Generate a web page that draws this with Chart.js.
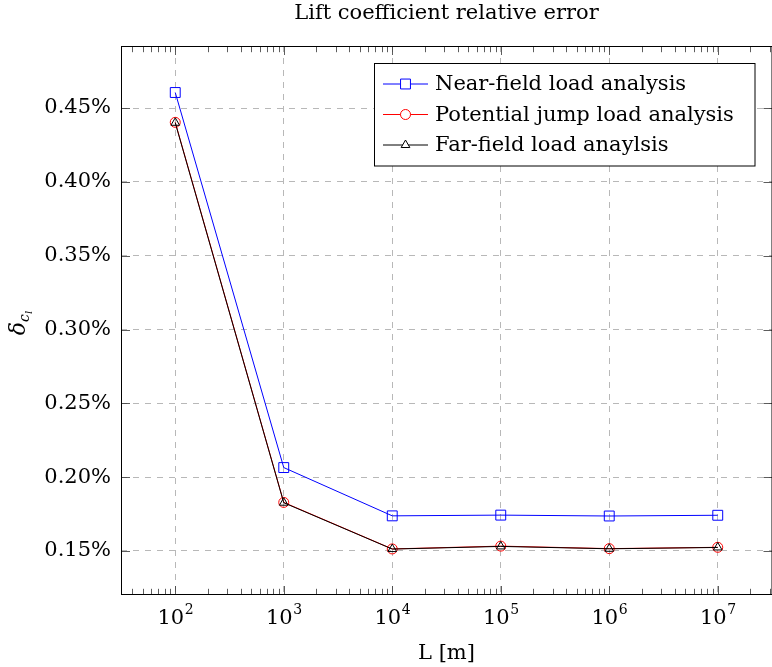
<!DOCTYPE html>
<html>
<head>
<meta charset="utf-8">
<script src="https://cdn.jsdelivr.net/npm/chart.js@4/dist/chart.umd.min.js"></script>
<style>
  html, body { margin: 0; padding: 0; overflow: hidden; background: #fff; }
  canvas { display: block; }
</style>
</head>
<body>
<canvas id="myChart" width="780" height="667"></canvas>
<script>
// data (values in %)
const lengths = [1e2, 1e3, 1e4, 1e5, 1e6, 1e7];
const nearField = [0.4605, 0.2065, 0.1738, 0.1743, 0.1737, 0.1742];
const potentialJump = [0.4403, 0.1829, 0.1514, 0.1533, 0.1516, 0.1525];
const farField = [0.4400, 0.1827, 0.1513, 0.1531, 0.1515, 0.1524];
const seriesNames = ["Near-field load analysis", "Potential jump load analysis", "Far-field load anaylsis"];
const xTicks = [1e2, 1e3, 1e4, 1e5, 1e6, 1e7];
const yTicks = [0.15, 0.2, 0.25, 0.3, 0.35, 0.4, 0.45];

const FONT = '"DejaVu Serif", "Liberation Serif", serif';
const FS = 21;

const toPoints = (ys) => lengths.map((x, i) => ({ x, y: ys[i] }));

const decorations = {
  id: "decorations",
  afterDatasetsDraw(chart) {
    const { ctx, chartArea: a, scales: { x, y } } = chart;
    const left = Math.round(a.left) + 0.5;
    const top = Math.round(a.top) + 0.5;
    const bottom = Math.round(a.bottom) - 0.5;
    const right = a.right;
    ctx.save();

    // minor + major ticks, pointing inwards
    ctx.strokeStyle = "#333";
    ctx.lineWidth = 0.8;
    ctx.beginPath();
    for (let e = 1; e <= 7; e++) {
      for (let k = 2; k <= 9; k++) {
        const v = k * 10 ** e;
        if (v < x.min || v > x.max) continue;
        const px = Math.round(x.getPixelForValue(v)) + 0.5;
        ctx.moveTo(px, bottom); ctx.lineTo(px, bottom - 5.7);
        ctx.moveTo(px, top); ctx.lineTo(px, top + 5.7);
      }
    }
    xTicks.forEach((v) => {
      const px = Math.round(x.getPixelForValue(v)) + 0.5;
      ctx.moveTo(px, bottom); ctx.lineTo(px, bottom - 8.5);
      ctx.moveTo(px, top); ctx.lineTo(px, top + 8.5);
    });
    yTicks.forEach((v) => {
      const py = Math.round(y.getPixelForValue(v)) + 0.5;
      ctx.moveTo(left, py); ctx.lineTo(left + 8.5, py);
      ctx.moveTo(right, py); ctx.lineTo(right - 8.5, py);
    });
    ctx.stroke();

    // frame
    ctx.strokeStyle = "#000";
    ctx.lineWidth = 1;
    ctx.strokeRect(left, top, right - left, bottom - top);
    ctx.restore();
  },
  afterDraw(chart) {
    const { ctx, chartArea: a, scales: { x }, data } = chart;
    ctx.save();
    ctx.fillStyle = "#000";

    // title
    ctx.font = `${FS}px ${FONT}`;
    ctx.textAlign = "center";
    ctx.textBaseline = "middle";
    ctx.fillText("Lift coefficient relative error", (a.left + a.right) / 2, 14);

    // x tick labels as 10^n
    ctx.textAlign = "left";
    xTicks.forEach((v) => {
      const px = x.getPixelForValue(v);
      const exp = String(Math.round(Math.log10(v)));
      ctx.font = `${FS}px ${FONT}`;
      const w1 = ctx.measureText("10").width;
      ctx.font = `14px ${FONT}`;
      const w2 = ctx.measureText(exp).width;
      const start = px - (w1 + w2) / 2;
      ctx.font = `${FS}px ${FONT}`;
      ctx.fillText("10", start, 619);
      ctx.font = `14px ${FONT}`;
      ctx.fillText(exp, start + w1 + 0.5, 610);
    });

    // y axis title: delta_{c_l}
    ctx.translate(20, 323);
    ctx.rotate(-Math.PI / 2);
    ctx.font = `italic 22px ${FONT}`;
    const wd = ctx.measureText("δ").width;
    ctx.font = `italic 14px ${FONT}`;
    const wc = ctx.measureText("c").width;
    ctx.font = `italic 10px ${FONT}`;
    const wl = ctx.measureText("l").width;
    let cx = -(wd + wc + wl) / 2;
    ctx.textBaseline = "alphabetic";
    ctx.font = `italic 22px ${FONT}`;
    ctx.fillText("δ", cx, 5);
    cx += wd;
    ctx.font = `italic 14px ${FONT}`;
    ctx.fillText("c", cx, 9);
    cx += wc;
    ctx.font = `italic 10px ${FONT}`;
    ctx.fillText("l", cx, 12);
    ctx.setTransform(1, 0, 0, 1, 0, 0);

    // legend
    ctx.fillStyle = "#fff";
    ctx.fillRect(374.5, 63.5, 380.5, 102.5);
    ctx.strokeStyle = "#000";
    ctx.lineWidth = 1;
    ctx.strokeRect(374.5, 63.5, 380.5, 102.5);
    const rows = [84, 114.5, 145];
    data.datasets.forEach((ds, i) => {
      const ry = rows[i];
      ctx.strokeStyle = ds.borderColor;
      ctx.lineWidth = 1;
      ctx.beginPath();
      ctx.moveTo(383, ry);
      ctx.lineTo(428, ry);
      ctx.stroke();
      ctx.fillStyle = "#fff";
      Chart.helpers.drawPoint(ctx, {
        pointStyle: ds.pointStyle,
        radius: ds.pointRadius,
        rotation: 0,
        borderWidth: 1,
      }, 405.5, ry);
      ctx.fillStyle = "#000";
      ctx.font = `${FS}px ${FONT}`;
      ctx.textAlign = "left";
      ctx.textBaseline = "middle";
      ctx.fillText(ds.label, 435, ry + 1);
    });
    ctx.restore();
  },
};

const makeSet = (label, ys, color, style, radius, order) => ({
  label,
  data: toPoints(ys),
  borderColor: color,
  backgroundColor: "rgba(0,0,0,0)",
  borderWidth: 1,
  pointStyle: style,
  pointRadius: radius,
  pointBorderWidth: 1,
  pointBorderColor: color,
  pointBackgroundColor: "rgba(0,0,0,0)",
  tension: 0,
  order,
});

new Chart(document.getElementById("myChart"), {
  type: "line",
  data: {
    datasets: [
      makeSet(seriesNames[0], nearField, "#0000ff", "rect", 7, 2),
      makeSet(seriesNames[1], potentialJump, "#ff0000", "circle", 5, 1),
      makeSet(seriesNames[2], farField, "#000000", "triangle", 5, 0),
    ],
  },
  options: {
    responsive: false,
    animation: false,
    layout: { padding: { top: 46, right: 4.4, left: 0, bottom: 0 } },
    plugins: {
      legend: { display: false },
      title: { display: false },
      tooltip: { enabled: false },
    },
    scales: {
      x: {
        type: "logarithmic",
        bounds: "data",
        min: 10 ** 1.5,
        max: 10 ** 7.5,
        afterBuildTicks: (scale) => {
          scale.ticks = xTicks.map((value) => ({ value }));
        },
        afterFit: (scale) => { scale.height = 72; },
        ticks: { display: false },
        grid: { color: "#b8b8b8", lineWidth: 1, drawTicks: false },
        border: { display: false, dash: [6, 6] },
        title: {
          display: true,
          text: "L [m]",
          color: "#000",
          font: { family: FONT, size: FS },
          padding: { top: 0, bottom: 1 },
        },
      },
      y: {
        type: "linear",
        min: 0.1202,
        max: 0.492,
        afterBuildTicks: (scale) => {
          scale.ticks = yTicks.map((value) => ({ value }));
        },
        afterFit: (scale) => { scale.width = 121; },
        ticks: {
          color: "#000",
          padding: 10,
          font: { family: FONT, size: FS },
          callback: (v) => v.toFixed(2) + "%",
        },
        grid: { color: "#b8b8b8", lineWidth: 1, drawTicks: false },
        border: { display: false, dash: [6, 6] },
      },
    },
  },
  plugins: [decorations],
});
</script>
</body>
</html>
